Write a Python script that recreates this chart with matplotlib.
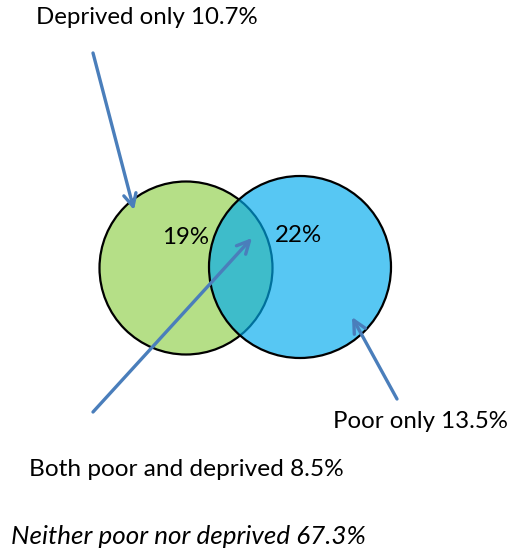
import matplotlib.pyplot as plt
from matplotlib.patches import Circle

# data
region_names = ["Deprived only", "Poor only", "Both poor and deprived", "Neither poor nor deprived"]
region_shares = [10.7, 13.5, 8.5, 67.3]
circle_labels = ["19%", "22%"]  # deprived total, poor total

W, H = 513, 555
arrow_color = "#4a7ebb"

fig = plt.figure(figsize=(W / 100, H / 100), dpi=100)
ax = fig.add_axes([0, 0, 1, 1])
ax.set_xlim(0, W)
ax.set_ylim(H, 0)
ax.set_aspect("equal")
ax.axis("off")

plt.rcParams['font.family'] = ['Lato', 'DejaVu Sans']
fs = 17.3

# circles: deprived (green) and poor (blue, semi transparent)
ax.add_patch(Circle((186, 268), 86.5, facecolor="#b5df87", edgecolor="black", lw=1.6, zorder=1))
ax.add_patch(Circle((300, 267), 91, facecolor=(0.0, 0.67, 0.93, 0.66), edgecolor="none", zorder=2))
ax.add_patch(Circle((300, 267), 91, facecolor="none", edgecolor="black", lw=1.6, zorder=3))

ax.text(186, 237, circle_labels[0], fontsize=fs, ha="center", va="center", zorder=5)
ax.text(298, 235, circle_labels[1], fontsize=fs, ha="center", va="center", zorder=5)


def label(i):
    return "{} {}%".format(region_names[i], region_shares[i])


ax.text(36, 18, label(0), fontsize=fs, ha="left", va="center")
ax.text(333, 421, label(1), fontsize=fs, ha="left", va="center")
ax.text(29, 470, label(2), fontsize=fs + 0.3, ha="left", va="center")
ax.text(11, 536, label(3), fontsize=fs + 1.4, ha="left", va="center", style="italic")

arrows = [((93, 53), (134, 210)), ((93, 412), (252, 238)), ((397, 399), (352, 317))]
for start, end in arrows:
    ax.annotate("", xy=end, xytext=start,
                arrowprops=dict(arrowstyle="->,head_length=0.9,head_width=0.45",
                                color=arrow_color, lw=2.4, shrinkA=0, shrinkB=0),
                zorder=6)

fig.savefig("out.png", dpi=100)
